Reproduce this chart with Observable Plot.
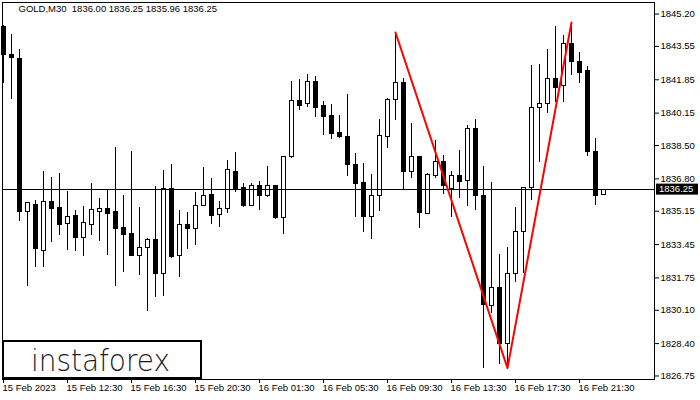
<!DOCTYPE html>
<html><head><meta charset="utf-8">
<script src="https://cdn.jsdelivr.net/npm/d3@7"></script>
<script src="https://cdn.jsdelivr.net/npm/@observablehq/plot@0.6"></script>
<style>body{margin:0;background:#fff;} svg{display:block}</style>
</head><body><div id="chart"></div>
<script>
const opens = [
1844.56, 1843.09, 1842.93, 1835.10, 1835.49, 1833.10, 1835.64, 1835.29, 1834.52, 1834.88,
1833.76, 1834.47, 1835.10, 1835.24, 1835.13, 1834.27, 1834.01, 1832.89, 1833.25, 1833.66,
1831.97, 1836.26, 1832.89, 1834.47, 1834.22, 1835.39, 1836.00, 1834.98, 1835.24, 1837.17,
1836.31, 1835.39, 1836.46, 1835.90, 1836.41, 1834.78, 1837.89, 1840.79, 1840.59, 1841.76,
1840.49, 1839.98, 1839.16, 1838.91, 1837.53, 1836.61, 1834.83, 1835.90, 1838.91, 1840.84,
1841.71, 1837.17, 1837.89, 1835.03, 1836.97, 1837.68, 1836.26, 1836.92, 1836.71, 1839.36,
1835.95, 1830.34, 1831.21, 1828.36, 1831.97, 1834.11, 1836.31, 1840.43, 1840.59, 1841.91,
1841.51, 1843.65, 1842.78, 1842.32, 1838.19, 1836.00];
const closes = [
1843.09, 1842.98, 1835.13, 1835.56, 1833.20, 1835.64, 1835.24, 1834.47, 1834.83, 1833.76,
1834.57, 1835.19, 1835.24, 1835.03, 1834.22, 1833.96, 1832.89, 1833.25, 1833.66, 1831.97,
1836.26, 1832.84, 1834.47, 1834.22, 1835.39, 1835.95, 1834.88, 1835.24, 1837.27, 1836.26,
1835.39, 1836.46, 1835.90, 1836.41, 1834.78, 1837.89, 1840.79, 1840.49, 1841.76, 1840.43,
1839.93, 1839.11, 1838.91, 1837.53, 1836.56, 1834.83, 1835.95, 1838.96, 1840.84, 1841.71,
1837.17, 1837.89, 1835.08, 1837.02, 1837.68, 1836.41, 1836.92, 1836.66, 1839.36, 1835.90,
1830.39, 1831.21, 1828.36, 1831.97, 1834.11, 1836.31, 1840.43, 1840.59, 1841.91, 1841.45,
1843.65, 1842.78, 1842.22, 1838.19, 1835.95, 1836.25];
const highs = [
1844.60, 1844.16, 1843.39, 1835.59, 1835.69, 1837.17, 1836.87, 1837.07, 1836.15, 1835.19,
1835.39, 1836.56, 1835.80, 1836.26, 1838.40, 1835.95, 1838.19, 1835.34, 1833.76, 1836.41,
1837.22, 1837.53, 1835.19, 1835.08, 1836.10, 1837.38, 1836.82, 1835.64, 1837.73, 1838.14,
1836.56, 1836.56, 1836.66, 1837.43, 1836.45, 1837.94, 1841.76, 1841.86, 1842.12, 1842.01,
1840.74, 1840.59, 1840.03, 1841.10, 1838.09, 1837.58, 1837.02, 1839.82, 1840.89, 1844.26,
1841.91, 1839.62, 1837.92, 1837.05, 1838.75, 1837.99, 1837.17, 1838.24, 1839.52, 1839.82,
1837.43, 1836.61, 1832.94, 1833.30, 1835.34, 1836.35, 1842.58, 1842.63, 1843.39, 1844.56,
1844.10, 1844.77, 1843.24, 1842.52, 1838.85, 1836.25];
const lows = [
1841.66, 1840.84, 1834.62, 1831.31, 1832.28, 1832.28, 1833.55, 1833.91, 1833.15, 1833.10,
1832.84, 1833.91, 1833.61, 1832.89, 1831.31, 1832.03, 1832.87, 1831.87, 1830.04, 1830.75,
1830.80, 1832.74, 1831.77, 1833.20, 1833.40, 1835.39, 1834.47, 1834.32, 1835.03, 1836.10,
1835.34, 1835.39, 1835.19, 1835.85, 1834.74, 1833.96, 1837.84, 1840.28, 1840.43, 1839.93,
1839.01, 1838.80, 1838.86, 1836.92, 1834.83, 1834.06, 1833.71, 1835.13, 1838.35, 1839.77,
1836.26, 1836.82, 1834.27, 1835.00, 1836.82, 1836.00, 1834.83, 1835.80, 1835.39, 1835.19,
1827.15, 1829.94, 1827.34, 1827.20, 1831.52, 1831.97, 1835.69, 1837.63, 1840.13, 1840.69,
1840.69, 1842.07, 1841.66, 1837.94, 1835.44, 1835.96];

const xTickIdx = [0, 8, 16, 24, 32, 40, 48, 56, 64, 72];
const xTickLabels = ["15 Feb 2023", "15 Feb 12:30", "15 Feb 16:30", "15 Feb 20:30", "16 Feb 01:30",
  "16 Feb 05:30", "16 Feb 09:30", "16 Feb 13:30", "16 Feb 17:30", "16 Feb 21:30"];
const yTicks = [1845.20, 1843.55, 1841.85, 1840.15, 1838.50, 1836.80, 1835.15, 1833.45, 1831.75, 1830.10, 1828.40, 1826.75];
const symbol = "GOLD,M30";
const lastOHLC = [1836.00, 1836.25, 1835.96, 1836.25];
const patternIdx = [49, 63, 71];
const patternPrice = [1844.26, 1827.15, 1844.77];
const logoText = "instaforex";

const candles = opens.map((o, i) => ({i, open: o, close: closes[i], high: highs[i], low: lows[i],
  lo: Math.min(o, closes[i]), hi: Math.max(o, closes[i])}));
const up = candles.filter(d => d.close >= d.open);
const down = candles.filter(d => d.close < d.open);
const pattern = patternIdx.map((i, k) => ({i, p: patternPrice[k]}));
const xLabels = xTickIdx.map((i, k) => ({i, label: xTickLabels[k]}));
const lastPrice = closes[closes.length - 1];
const title = symbol + "  " + lastOHLC.map(v => v.toFixed(2)).join(" ");

const chart = Plot.plot({
  width: 700, height: 400,
  marginLeft: 2, marginRight: 46, marginTop: 2, marginBottom: 21,
  style: {fontFamily: "'Liberation Sans', Arial, sans-serif", fontSize: "9.5px", background: "#fff", color: "#000", overflow: "visible"},
  x: {domain: [-0.125, 81.375], ticks: xTickIdx, tickFormat: () => "", tickSize: 4, label: null},
  y: {domain: [1826.57, 1845.79], axis: "right", ticks: yTicks, tickFormat: d => d.toFixed(2), tickSize: 4, tickPadding: 2, label: null},
  marks: [
    Plot.ruleX(candles, {x: "i", y1: "low", y2: "high", stroke: "#000", strokeWidth: 1, shapeRendering: "crispEdges"}),
    Plot.rect(down, {x1: d => d.i - 0.25, x2: d => d.i + 0.25, y1: "lo", y2: "hi", fill: "#000", stroke: "#000", shapeRendering: "crispEdges"}),
    Plot.rect(up, {x1: d => d.i - 0.25, x2: d => d.i + 0.25, y1: "lo", y2: "hi", fill: "#fff", stroke: "#000", shapeRendering: "crispEdges"}),
    Plot.ruleY([lastPrice], {stroke: "#000", shapeRendering: "crispEdges"}),
    Plot.line(pattern, {x: "i", y: "p", stroke: "#ff0000", strokeWidth: 2}),
    Plot.text(xLabels, {x: "i", text: "label", frameAnchor: "bottom", textAnchor: "start", lineAnchor: "top", dy: 5, dx: -1}),
    Plot.text([title], {text: d => d, frameAnchor: "top-left", textAnchor: "start", lineAnchor: "top", dx: 16, dy: 3}),
    Plot.frame({stroke: "#000", shapeRendering: "crispEdges"})
  ]
});
document.getElementById("chart").appendChild(chart);

const svg = d3.select(chart);
const xr = chart.scale("x").range;
const yS = chart.scale("y");
const yp = yS.apply(lastPrice);
const g = svg.append("g");
g.append("rect").attr("x", xr[1] + 2).attr("y", yp - 5.5).attr("width", 42).attr("height", 11).attr("fill", "#000");
g.append("text").attr("x", xr[1] + 5).attr("y", yp).attr("dy", "0.35em").attr("fill", "#fff")
  .attr("text-anchor", "start").text(lastPrice.toFixed(2));

const yb = yS.range[0];
const logo = svg.append("g");
logo.append("rect").attr("x", xr[0] + 1).attr("y", yb - 38).attr("width", 198).attr("height", 37)
  .attr("fill", "#fff").attr("stroke", "#000").attr("stroke-width", 2).attr("shape-rendering", "crispEdges");
logo.append("text").attr("x", xr[0] + 29).attr("y", yb - 8)
  .attr("font-family", "'DejaVu Sans', sans-serif").attr("font-weight", 300).attr("font-size", 30)
  .attr("fill", "#1a1a1a").attr("text-anchor", "start")
  .attr("textLength", 139).attr("lengthAdjust", "spacingAndGlyphs").text(logoText);
</script>
</body></html>
